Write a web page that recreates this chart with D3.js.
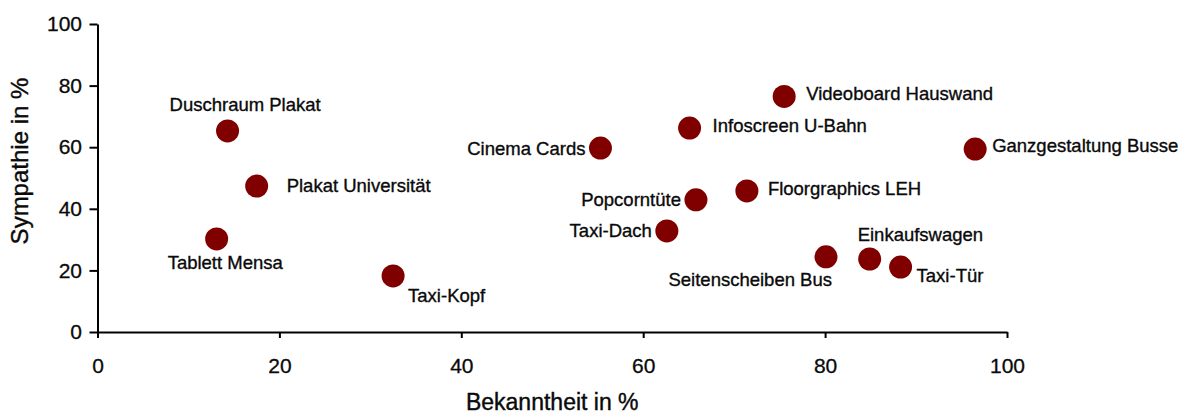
<!DOCTYPE html>
<html>
<head>
<meta charset="utf-8">
<script src="https://cdn.jsdelivr.net/npm/d3@7"></script>
<style>
  html, body { margin: 0; padding: 0; background: #fff; }
  svg { display: block; }
  text { font-family: "Liberation Sans", Arial, Helvetica, sans-serif; fill: #0a0a0a; }
</style>
</head>
<body>
<svg id="chart" width="1188" height="416"></svg>
<script>
// Werbeformen: Bekanntheit (x) vs. Sympathie (y), beide in %
const names = [
  "Duschraum Plakat", "Plakat Universität", "Tablett Mensa", "Taxi-Kopf",
  "Cinema Cards", "Infoscreen U-Bahn", "Videoboard Hauswand", "Ganzgestaltung Busse",
  "Popcorntüte", "Floorgraphics LEH", "Taxi-Dach", "Seitenscheiben Bus",
  "Einkaufswagen", "Taxi-Tür"
];
const bekanntheit = [14.3, 17.5, 13.1, 32.5, 55.3, 65.1, 75.5, 96.5, 65.8, 71.4, 62.6, 80.1, 84.9, 88.3];
const sympathie   = [65.3, 47.4, 30.2, 18.2, 59.7, 66.2, 76.5, 59.4, 42.9, 45.8, 32.8, 24.4, 23.7, 21.1];
const xTicks = [0, 20, 40, 60, 80, 100];
const yTicks = [0, 20, 40, 60, 80, 100];
const xTitle = "Bekanntheit in %";
const yTitle = "Sympathie in %";

// label placement per point: text anchor and offset from the dot centre
const labelPlacement = [
  ["start", -58, -20], ["start", 30, 6], ["start", -49, 30], ["start", 15, 26],
  ["end", -15, 7], ["start", 23, 4], ["start", 22, 4], ["start", 17, 3],
  ["end", -15, 6], ["start", 21, 4], ["end", -15, 6], ["end", 6, 29],
  ["start", -12, -18], ["start", 16, 15]
];

const svg = d3.select("#chart");
const plot = { left: 97.5, right: 1007, top: 24, bottom: 332 };

const x = d3.scaleLinear().domain([0, 100]).range([plot.left, plot.right]);
const y = d3.scaleLinear().domain([0, 100]).range([plot.bottom, plot.top]);

// axes
const gx = svg.append("g")
  .attr("transform", `translate(0,${plot.bottom})`)
  .call(d3.axisBottom(x).tickValues(xTicks).tickSize(6).tickSizeOuter(0).tickPadding(20));
const gy = svg.append("g")
  .attr("transform", `translate(${plot.left},0)`)
  .call(d3.axisLeft(y).tickValues(yTicks).tickSize(8).tickSizeOuter(0).tickPadding(7.5));

[gx, gy].forEach(g => {
  g.selectAll("path.domain").attr("stroke", "#000").attr("stroke-width", 2);
  g.selectAll(".tick line").attr("stroke", "#000").attr("stroke-width", 2);
  g.selectAll(".tick text")
    .attr("font-size", 21)
    .attr("font-family", "'Liberation Sans', Arial, sans-serif")
    .attr("fill", "#0a0a0a")
    .attr("stroke", "#0a0a0a")
    .attr("stroke-width", 0.3);
});

// axis titles
svg.append("text")
  .attr("x", (plot.left + plot.right) / 2)
  .attr("y", 410)
  .attr("text-anchor", "middle")
  .attr("font-size", 23)
  .attr("stroke", "#0a0a0a")
  .attr("stroke-width", 0.4)
  .text(xTitle);

svg.append("text")
  .attr("transform", "translate(28,161) rotate(-90)")
  .attr("text-anchor", "middle")
  .attr("font-size", 24)
  .attr("stroke", "#0a0a0a")
  .attr("stroke-width", 0.4)
  .text(yTitle);

// points and labels
const pts = names.map((n, i) => ({ name: n, bx: bekanntheit[i], sy: sympathie[i], place: labelPlacement[i] }));

svg.append("g").selectAll("circle")
  .data(pts)
  .join("circle")
  .attr("cx", d => x(d.bx))
  .attr("cy", d => y(d.sy))
  .attr("r", 11.5)
  .attr("fill", "#800000");

svg.append("g").selectAll("text")
  .data(pts)
  .join("text")
  .attr("x", d => x(d.bx) + d.place[1])
  .attr("y", d => y(d.sy) + d.place[2])
  .attr("text-anchor", d => d.place[0])
  .attr("font-size", 18.5)
  .attr("stroke", "#0a0a0a")
  .attr("stroke-width", 0.35)
  .text(d => d.name);
</script>
</body>
</html>
